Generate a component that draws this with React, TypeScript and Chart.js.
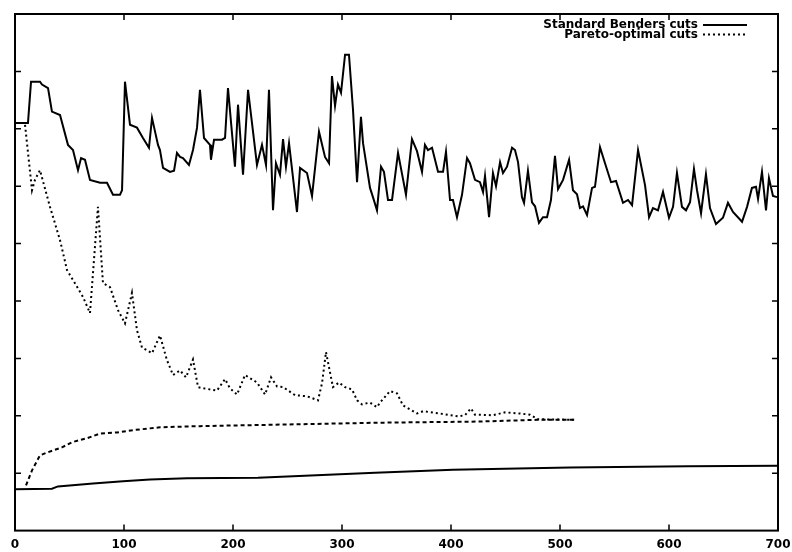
import { useEffect, useRef } from "react";
import { Chart, registerables } from "chart.js";

Chart.register(...registerables);

// X axis tick values (iterations)
const xTickValues = [0, 100, 200, 300, 400, 500, 600, 700];
// Y axis tick positions (unlabelled in the original)
const yTickValues = [1, 2, 3, 4, 5, 6, 7, 8];

const legendLabels = ["Standard Benders cuts", "Pareto-optimal cuts"];

// Standard Benders cuts — upper bound
const stdUpperX = [0, 11.9, 14.7, 22.9, 24.8, 30.3, 33.9, 41.3, 48.6, 53.2, 57.8, 60.6, 64.2, 68.8, 78.0, 84.4, 89.9, 96.3, 98.2, 100.9, 105.5, 111.9, 117.4, 122.9, 125.7, 131.2, 133.0, 135.8, 142.2, 145.9, 148.6, 151.4, 154.1, 159.6, 163.3, 167.0, 169.7, 173.4, 178.9, 179.8, 182.6, 189.9, 192.7, 195.4, 201.8, 204.6, 209.2, 213.8, 222.0, 226.6, 230.3, 233.0, 236.7, 239.4, 243.1, 245.9, 248.6, 251.4, 258.7, 261.5, 267.9, 272.5, 278.9, 284.4, 288.1, 290.8, 293.6, 296.3, 299.1, 302.8, 306.4, 310.1, 313.8, 317.4, 319.3, 325.7, 328.4, 332.1, 335.8, 338.5, 342.2, 345.9, 351.4, 358.7, 364.2, 368.8, 373.4, 376.1, 378.9, 382.6, 388.1, 392.7, 395.4, 399.1, 401.8, 405.5, 410.1, 414.7, 417.4, 422.0, 426.6, 429.4, 431.2, 434.9, 438.5, 441.3, 445.0, 447.7, 451.4, 456.0, 458.7, 461.5, 465.1, 467.0, 470.6, 474.3, 477.1, 480.7, 484.4, 488.1, 491.7, 495.4, 498.2, 502.8, 508.3, 511.9, 515.6, 518.3, 521.1, 524.8, 529.4, 532.1, 536.7, 541.3, 546.8, 551.4, 557.8, 562.4, 566.1, 571.6, 578.0, 581.7, 585.3, 589.9, 594.5, 600.0, 603.7, 607.3, 611.9, 615.6, 619.3, 622.9, 625.7, 629.4, 633.9, 637.6, 643.1, 649.5, 654.1, 658.7, 667.0, 671.6, 676.1, 679.8, 681.7, 685.3, 689.0, 691.7, 695.4, 699.1];
const stdUpperY = [7.10, 7.10, 7.82, 7.82, 7.77, 7.71, 7.30, 7.24, 6.72, 6.63, 6.28, 6.49, 6.46, 6.11, 6.06, 6.06, 5.85, 5.85, 5.93, 7.82, 7.07, 7.02, 6.84, 6.67, 7.19, 6.72, 6.63, 6.32, 6.25, 6.27, 6.58, 6.51, 6.49, 6.37, 6.63, 7.02, 7.68, 6.84, 6.72, 6.46, 6.81, 6.81, 6.84, 7.71, 6.34, 7.42, 6.20, 7.68, 6.37, 6.72, 6.37, 7.68, 5.58, 6.40, 6.20, 6.82, 6.34, 6.75, 5.55, 6.32, 6.23, 5.83, 6.95, 6.51, 6.40, 7.92, 7.40, 7.77, 7.63, 8.29, 8.29, 7.33, 6.07, 7.21, 6.75, 5.97, 5.81, 5.58, 6.34, 6.25, 5.76, 5.76, 6.58, 5.85, 6.82, 6.61, 6.25, 6.72, 6.63, 6.67, 6.25, 6.25, 6.60, 5.76, 5.76, 5.46, 5.85, 6.49, 6.40, 6.11, 6.07, 5.90, 6.18, 5.46, 6.23, 6.00, 6.42, 6.23, 6.34, 6.67, 6.63, 6.42, 5.81, 5.71, 6.27, 5.72, 5.65, 5.36, 5.46, 5.46, 5.76, 6.53, 5.95, 6.11, 6.46, 5.93, 5.86, 5.62, 5.65, 5.50, 5.97, 5.99, 6.68, 6.40, 6.07, 6.09, 5.71, 5.76, 5.67, 6.63, 6.02, 5.46, 5.62, 5.58, 5.90, 5.45, 5.64, 6.23, 5.64, 5.58, 5.72, 6.30, 5.93, 5.53, 6.21, 5.62, 5.34, 5.45, 5.71, 5.55, 5.38, 5.64, 5.97, 5.99, 5.78, 6.25, 5.58, 6.14, 5.83, 5.81];

// Standard Benders cuts — lower bound
const stdLowerX = [0, 33.9, 39.4, 71.6, 99.1, 123.9, 157.8, 222.9, 330.3, 401.8, 509.2, 617.4, 700];
const stdLowerY = [0.72, 0.73, 0.77, 0.82, 0.86, 0.89, 0.91, 0.92, 1.01, 1.06, 1.10, 1.12, 1.13];

// Pareto-optimal cuts — upper bound
const parUpperX = [9.2, 15.6, 18.3, 22.9, 32.1, 41.3, 47.7, 55.0, 62.4, 68.8, 76.1, 80.7, 87.2, 94.5, 100.9, 107.3, 111.9, 116.5, 125.7, 133.0, 139.4, 145.0, 151.4, 156.9, 163.3, 167.9, 172.5, 185.3, 192.7, 197.2, 203.7, 211.0, 222.0, 229.4, 234.9, 240.4, 245.9, 256.9, 267.9, 278.0, 281.7, 285.3, 287.2, 291.7, 297.2, 302.8, 309.2, 313.8, 318.3, 325.7, 332.1, 334.9, 344.0, 350.5, 356.0, 368.8, 374.3, 389.9, 406.4, 412.8, 418.3, 422.0, 438.5, 449.5, 463.3, 472.5, 477.1, 479.8, 513.8];
const parUpperY = [7.07, 5.93, 6.11, 6.28, 5.64, 5.06, 4.54, 4.31, 4.07, 3.79, 5.64, 4.31, 4.24, 3.84, 3.61, 4.14, 3.49, 3.19, 3.09, 3.40, 2.97, 2.71, 2.79, 2.67, 2.98, 2.50, 2.48, 2.44, 2.64, 2.48, 2.37, 2.71, 2.58, 2.37, 2.67, 2.51, 2.50, 2.36, 2.34, 2.27, 2.57, 3.11, 2.93, 2.50, 2.58, 2.50, 2.46, 2.27, 2.20, 2.23, 2.15, 2.23, 2.43, 2.39, 2.18, 2.04, 2.08, 2.04, 1.99, 2.01, 2.13, 2.02, 2.01, 2.06, 2.04, 2.02, 1.97, 1.94, 1.93];

// Pareto-optimal cuts — lower bound
const parLowerX = [10.1, 15.6, 22.9, 29.4, 43.1, 52.3, 66.1, 78.0, 93.6, 108.3, 133.0, 169.7, 334.9, 426.6, 478.9, 513.8];
const parLowerY = [0.79, 1.05, 1.31, 1.36, 1.45, 1.54, 1.61, 1.69, 1.71, 1.75, 1.80, 1.82, 1.88, 1.90, 1.93, 1.93];

const toPoints = (xs: number[], ys: number[]) => xs.map((x, i) => ({ x, y: ys[i] }));

const FONT = "DejaVu Sans";

const framePlugin = {
  id: "frame",
  afterDatasetsDraw(chart: any) {
    const { ctx, chartArea: a, scales } = chart;
    ctx.save();
    ctx.strokeStyle = "#000";
    ctx.lineWidth = 2;
    ctx.strokeRect(a.left, a.top, a.right - a.left, a.bottom - a.top);
    ctx.lineWidth = 1.5;
    ctx.beginPath();
    for (const v of xTickValues) {
      const x = scales.x.getPixelForValue(v);
      ctx.moveTo(x, a.bottom);
      ctx.lineTo(x, a.bottom - 6);
      ctx.moveTo(x, a.top);
      ctx.lineTo(x, a.top + 6);
    }
    for (const v of yTickValues) {
      const y = scales.y.getPixelForValue(v);
      ctx.moveTo(a.left, y);
      ctx.lineTo(a.left + 6, y);
      ctx.moveTo(a.right, y);
      ctx.lineTo(a.right - 6, y);
    }
    ctx.stroke();

    // legend (text right-aligned, sample line to its right)
    ctx.font = `bold 12px "${FONT}"`;
    ctx.fillStyle = "#000";
    ctx.textAlign = "right";
    ctx.textBaseline = "middle";
    const textRight = a.right - 80;
    const lineStart = a.right - 75;
    const lineEnd = a.right - 31;
    const rows = [a.top + 11, a.top + 20.5];
    legendLabels.forEach((label, i) => {
      const y = rows[i];
      ctx.fillText(label, textRight, y);
      ctx.beginPath();
      ctx.lineWidth = 2;
      ctx.setLineDash(i === 0 ? [] : [2, 3]);
      ctx.moveTo(lineStart, y);
      ctx.lineTo(lineEnd, y);
      ctx.stroke();
    });
    ctx.restore();
  },
};

export default function App() {
  const canvasRef = useRef<HTMLCanvasElement | null>(null);

  useEffect(() => {
    if (!canvasRef.current) return;
    const common = {
      borderColor: "#000",
      borderWidth: 2,
      pointRadius: 0,
      tension: 0,
      fill: false,
    };
    const chart = new Chart(canvasRef.current, {
      type: "line",
      data: {
        datasets: [
          { ...common, label: legendLabels[0], data: toPoints(stdUpperX, stdUpperY) },
          { ...common, label: legendLabels[1], data: toPoints(parUpperX, parUpperY), borderDash: [2, 3] },
          { ...common, label: legendLabels[0] + " (lower)", data: toPoints(stdLowerX, stdLowerY) },
          { ...common, label: legendLabels[1] + " (lower)", data: toPoints(parLowerX, parLowerY), borderDash: [4, 3] },
        ],
      },
      options: {
        responsive: false,
        animation: false,
        layout: { padding: { left: 15, right: 14, top: 14, bottom: -7 } },
        plugins: { legend: { display: false }, tooltip: { enabled: false } },
        scales: {
          x: {
            type: "linear",
            min: 0,
            max: 700,
            grid: { display: false, drawTicks: false },
            border: { display: false },
            afterBuildTicks: (scale: any) => {
              scale.ticks = xTickValues.map((v) => ({ value: v }));
            },
            afterFit: (scale: any) => {
              scale.paddingLeft = 0;
              scale.paddingRight = 0;
            },
            ticks: {
              padding: 7,
              color: "#000",
              font: { family: FONT, size: 12, weight: "bold" },
              maxRotation: 0,
              autoSkip: false,
            },
          },
          y: {
            type: "linear",
            min: 0,
            max: 9,
            display: false,
          },
        },
      },
      plugins: [framePlugin],
    });
    return () => chart.destroy();
  }, []);

  return (
    <div style={{ position: "absolute", left: 0, top: 0, width: 792, height: 552, background: "#fff" }}>
      <canvas ref={canvasRef} width={792} height={552} style={{ display: "block" }} />
    </div>
  );
}
